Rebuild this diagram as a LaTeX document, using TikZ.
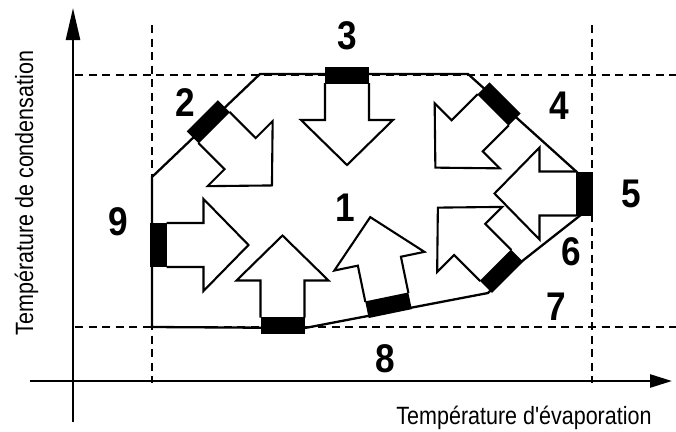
\documentclass[tikz,border=0pt]{standalone}
\usepackage{fontspec}
\setmainfont{Liberation Sans}
\newfontfamily\labelfont[FakeStretch=0.86]{Liberation Sans}
\newfontfamily\numfont[FakeStretch=0.88]{Liberation Sans}
\usetikzlibrary{arrows.meta}
\tikzset{
  numlbl/.style={font=\numfont\bfseries\fontsize{40}{40}\selectfont, inner sep=0pt},
  axlbl/.style={font=\labelfont\fontsize{25}{25}\selectfont, inner sep=0pt},
  edgeline/.style={line width=2.3pt, line join=miter},
  guide/.style={line width=2pt, dash pattern=on 8pt off 5.5pt},
  axisline/.style={line width=2.5pt},
  blockarrow/.style={draw, line width=2.1pt, fill=white, line join=miter},
  heat/.style={fill=black}
}
\newcommand{\flowarrow}[3]{%
  \begin{scope}[shift={(#1,#2)}, rotate=#3]
    \draw[blockarrow] (8,-22) -- (45,-22) -- (45,-46) -- (90,0) -- (45,46) -- (45,22) -- (8,22);
    \fill[heat] (-8.5,-22) rectangle (8.5,22);
  \end{scope}}
\begin{document}
\begin{tikzpicture}[x=1pt, y=-1pt]
\useasboundingbox (0,0) rectangle (676,431);
% guide lines
\draw[guide] (152,25) -- (152,383);
\draw[guide] (592,25) -- (592,383);
\draw[guide] (75,75) -- (676,75);
\draw[guide] (75,327) -- (676,327);
% axes
\draw[axisline, -{Triangle[length=32pt, width=14pt]}] (73,422) -- (73,8);
\draw[axisline, -{Triangle[length=22pt, width=13pt]}] (30,381) -- (672,381);
% operating envelope
\draw[edgeline] (152,327) -- (152,177) -- (260,74) -- (468,74) -- (579,174)
  -- (582,214) -- (521,262) -- (488,293) -- (305,328) -- cycle;
% arrows with heat blocks
\flowarrow{347}{75}{-90}
\flowarrow{158.5}{245}{0}
\flowarrow{282.5}{325.5}{90}
\flowarrow{208.3}{121.8}{-45}
\flowarrow{499}{104}{-135}
\flowarrow{501.5}{271.25}{135}
\flowarrow{584.5}{193.5}{180}
\flowarrow{388.5}{305.25}{101.7}
% labels
\node[numlbl] (n1) at (345,208) {1};
\node[numlbl] (n2) at (185,103) {2};
\node[numlbl] (n3) at (347,36) {3};
\node[numlbl] (n4) at (559,106) {4};
\node[numlbl] (n5) at (631,194) {5};
\node[numlbl] (n6) at (571,252) {6};
\node[numlbl] (n7) at (556,307) {7};
\node[numlbl] (n8) at (385,359) {8};
\node[numlbl] (n9) at (118,222) {9};
\node[axlbl, anchor=base] (xlab) at (524,424) {Température d'évaporation};
\node[axlbl, anchor=base, rotate=90] (ylab) at (33,193) {Température de condensation};
\end{tikzpicture}
\end{document}
